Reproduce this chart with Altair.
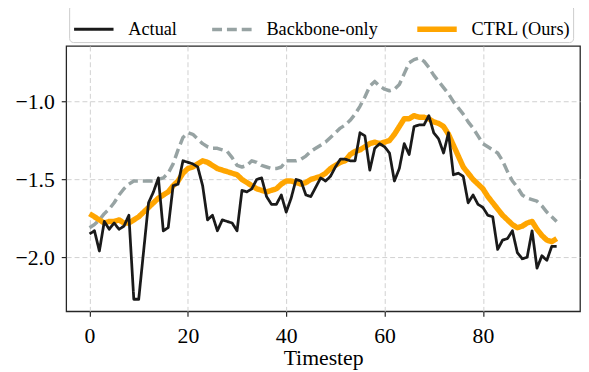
import altair as alt
import pandas as pd

timestep = list(range(96))

actual = [-1.85, -1.83, -1.96, -1.77, -1.82, -1.78, -1.82, -1.80, -1.73, -2.27,
          -2.27, -1.96, -1.65, -1.58, -1.49, -1.83, -1.81, -1.54, -1.53, -1.38,
          -1.39, -1.40, -1.42, -1.54, -1.76, -1.73, -1.83, -1.76, -1.77, -1.78,
          -1.83, -1.57, -1.58, -1.56, -1.50, -1.49, -1.61, -1.66, -1.66, -1.60,
          -1.71, -1.62, -1.50, -1.51, -1.60, -1.61, -1.55, -1.49, -1.51, -1.48,
          -1.42, -1.37, -1.37, -1.38, -1.38, -1.20, -1.22, -1.44, -1.30, -1.27,
          -1.29, -1.33, -1.51, -1.43, -1.27, -1.34, -1.16, -1.15, -1.15, -1.09,
          -1.20, -1.24, -1.33, -1.20, -1.47, -1.46, -1.48, -1.65, -1.60, -1.66,
          -1.68, -1.73, -1.74, -1.95, -1.89, -1.88, -1.83, -1.97, -2.01, -2.00,
          -1.83, -2.07, -1.99, -2.02, -1.93, -1.93]

backbone = [-1.81, -1.79, -1.76, -1.72, -1.69, -1.65, -1.60, -1.56, -1.53, -1.51,
            -1.51, -1.51, -1.51, -1.51, -1.50, -1.49, -1.46, -1.40, -1.31, -1.23,
            -1.20, -1.21, -1.24, -1.27, -1.29, -1.30, -1.30, -1.31, -1.32, -1.36,
            -1.41, -1.42, -1.41, -1.38, -1.39, -1.41, -1.42, -1.43, -1.43, -1.42,
            -1.38, -1.38, -1.38, -1.37, -1.35, -1.32, -1.30, -1.28, -1.26, -1.23,
            -1.20, -1.17, -1.15, -1.12, -1.08, -1.03, -0.97, -0.90, -0.87, -0.90,
            -0.92, -0.93, -0.92, -0.89, -0.82, -0.75, -0.73, -0.72, -0.74, -0.78,
            -0.83, -0.87, -0.91, -0.95, -1.00, -1.04, -1.08, -1.13, -1.17, -1.22,
            -1.27, -1.29, -1.31, -1.33, -1.38, -1.45, -1.51, -1.55, -1.60, -1.62,
            -1.63, -1.64, -1.67, -1.71, -1.74, -1.77]

ctrl = [-1.72, -1.74, -1.76, -1.78, -1.77, -1.77, -1.76, -1.78, -1.78, -1.76,
        -1.74, -1.71, -1.68, -1.65, -1.62, -1.60, -1.58, -1.54, -1.51, -1.46,
        -1.43, -1.42, -1.40, -1.38, -1.39, -1.41, -1.43, -1.44, -1.45, -1.46,
        -1.47, -1.50, -1.52, -1.54, -1.56, -1.57, -1.58, -1.57, -1.56, -1.53,
        -1.51, -1.51, -1.52, -1.53, -1.52, -1.50, -1.49, -1.48, -1.46, -1.43,
        -1.41, -1.39, -1.38, -1.34, -1.32, -1.31, -1.29, -1.27, -1.26, -1.27,
        -1.26, -1.25, -1.21, -1.16, -1.11, -1.11, -1.09, -1.10, -1.10, -1.11,
        -1.13, -1.14, -1.16, -1.21, -1.28, -1.35, -1.42, -1.46, -1.50, -1.53,
        -1.56, -1.61, -1.65, -1.69, -1.73, -1.76, -1.79, -1.81, -1.80, -1.78,
        -1.77, -1.82, -1.86, -1.89, -1.90, -1.88]

series_names = ["Actual", "Backbone-only", "CTRL (Ours)"]
series_colors = ["#1a1a1a", "#97a3a3", "#ffa500"]
series_dashes = [[1, 0], [10, 5], [1, 0]]
series_widths = [2.8, 3.5, 5.5]
x_ticks = [0, 20, 40, 60, 80]
y_ticks = [-2.0, -1.5, -1.0]

rows = []
for name, vals in zip(series_names, [actual, backbone, ctrl]):
    for t, v in zip(timestep, vals):
        rows.append({"t": t, "v": v, "series": name})
df = pd.DataFrame(rows)

FONT = "Liberation Serif"

x_enc = alt.X("t:Q",
              scale=alt.Scale(domain=[-4.75, 99.75], nice=False, zero=False),
              axis=alt.Axis(values=x_ticks, title="Timestep", format="d"))
y_enc = alt.Y("v:Q",
              scale=alt.Scale(domain=[-2.3475, -0.6425], nice=False, zero=False),
              axis=alt.Axis(values=y_ticks, title=None, format=".1f"))
color_enc = alt.Color("series:N", scale=alt.Scale(domain=series_names, range=series_colors), title=None)
dash_enc = alt.StrokeDash("series:N", scale=alt.Scale(domain=series_names, range=series_dashes), title=None)
width_enc = alt.StrokeWidth("series:N",
                            scale=alt.Scale(type="ordinal", domain=series_names, range=series_widths),
                            title=None)


def layer_for(name):
    return (
        alt.Chart(df)
        .transform_filter(alt.datum.series == name)
        .mark_line(strokeJoin="round")
        .encode(x=x_enc, y=y_enc, color=color_enc, strokeDash=dash_enc, strokeWidth=width_enc)
    )


chart = (
    alt.layer(layer_for("Backbone-only"), layer_for("CTRL (Ours)"), layer_for("Actual"))
    .properties(
        width=521,
        height=269,
        autosize=alt.AutoSizeParams(type="none"),
        padding={"left": 59, "top": 36, "right": 1, "bottom": 60},
    )
    .configure_view(stroke="#262626", strokeWidth=1.3)
    .configure_axis(
        domain=False,
        grid=True,
        gridColor="#d0d0d0",
        gridDash=[5, 3],
        gridWidth=1,
        ticks=True,
        tickSize=5,
        tickColor="#262626",
        tickWidth=1.2,
        labelFont=FONT,
        labelFontSize=22,
        labelColor="#000000",
        titleFont=FONT,
        titleFontSize=22,
        titleFontWeight="normal",
        titleColor="#000000",
    )
    .configure_axisX(labelPadding=10, titlePadding=1)
    .configure_axisY(labelPadding=7)
    .configure_legend(
        orient="none",
        legendX=3,
        legendY=-42,
        direction="horizontal",
        columns=3,
        columnPadding=28,
        symbolType="stroke",
        symbolSize=1600,
        labelFont=FONT,
        labelFontSize=18.5,
        labelColor="#000000",
        labelOffset=12,
        padding=2,
        strokeColor="#cccccc",
        fillColor="#ffffff",
        cornerRadius=4,
        labelLimit=300,
    )
)

chart.save("out.html", embed_options={"renderer": "svg", "actions": False})
